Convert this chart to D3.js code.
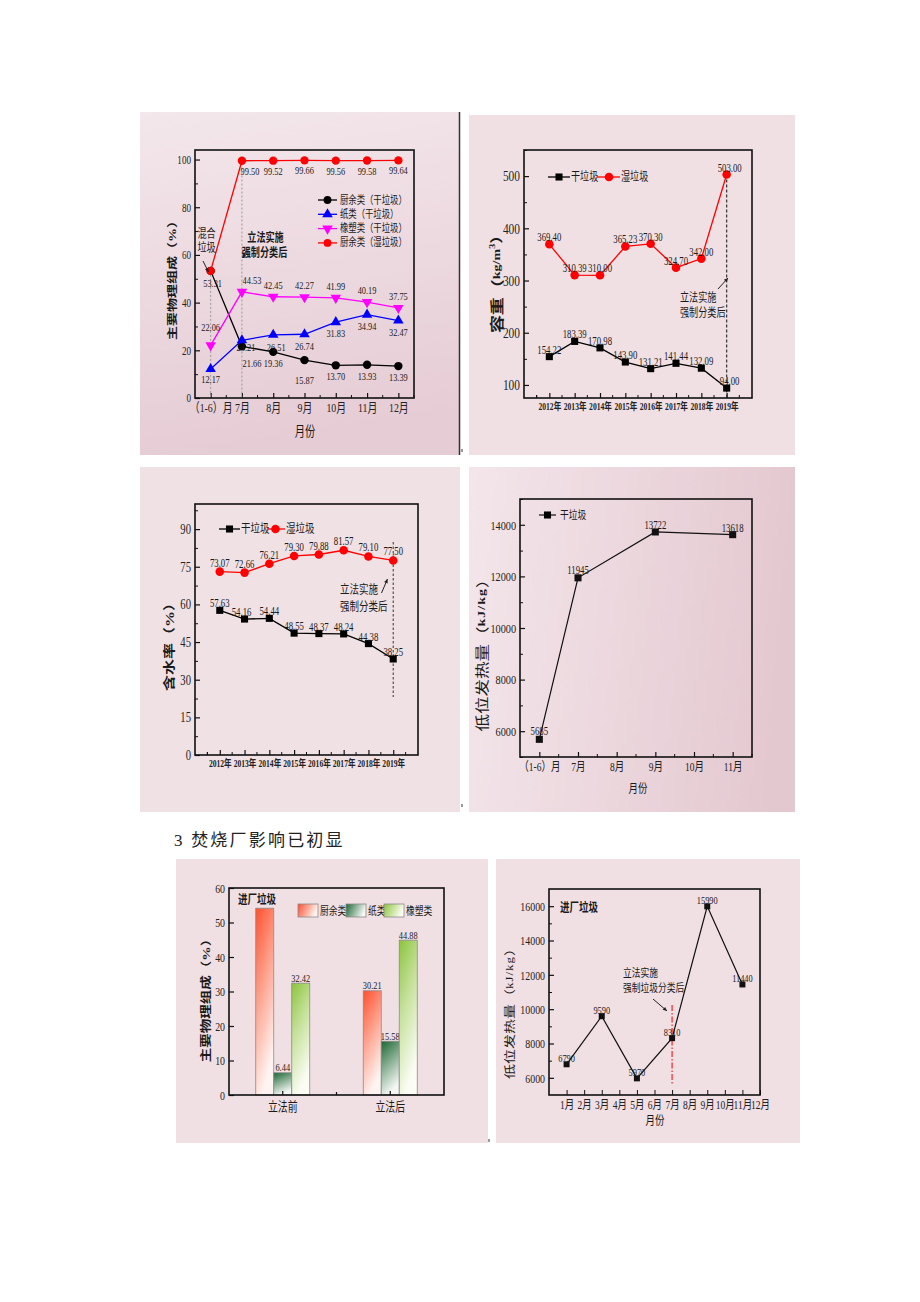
<!DOCTYPE html>
<html><head><meta charset="utf-8">
<script src="https://cdn.jsdelivr.net/npm/d3@7"></script>
<style>body{margin:0;background:#fff;} svg{display:block}</style>
</head><body>
<svg id="c" width="920" height="1302"></svg>
<script>
// ---------------- DATA ----------------
const p1Months = ["（1-6）月","7月","8月","9月","10月","11月","12月"];
const p1Ticks = [0,20,40,60,80,100];
const p1FoodDry = [53.31,21.66,19.36,15.87,13.70,13.93,13.39];
const p1Paper = [12.17,24.21,26.51,26.74,31.83,34.94,32.47];
const p1Plastic = [22.06,44.53,42.45,42.27,41.99,40.19,37.75];
const p1FoodWet = [53.31,99.50,99.52,99.66,99.56,99.58,99.64];
const p1Legend = ["厨余类（干垃圾）","纸类（干垃圾）","橡塑类（干垃圾）","厨余类（湿垃圾）"];

const years = ["2012年","2013年","2014年","2015年","2016年","2017年","2018年","2019年"];
const p2Ticks = [100,200,300,400,500];
const densityDry = [154.22,183.39,170.98,143.90,131.21,141.44,132.09,94.00];
const densityWet = [369.40,310.39,310.00,365.23,370.30,324.70,342.00,503.00];

const p3Ticks = [0,15,30,45,60,75,90];
const moistureDry = [57.63,54.16,54.44,48.55,48.37,48.24,44.38,38.25];
const moistureWet = [73.07,72.66,76.21,79.30,79.88,81.57,79.10,77.50];
const seriesNames = ["干垃圾","湿垃圾"];

const p4Months = ["（1-6）月","7月","8月","9月","10月","11月"];
const p4Ticks = [6000,8000,10000,12000,14000];
const p4Cats = ["（1-6）月","7月","9月","11月"];
const p4Heat = [5685,11945,13722,13618];

const p5Groups = ["立法前","立法后"];
const p5Series = ["厨余类","纸类","橡塑类"];
const p5Ticks = [0,10,20,30,40,50,60];
const p5Before = [54.14,6.44,32.42];
const p5After = [30.21,15.58,44.88];

const p6MonthLabels = ["1月","2月","3月","4月","5月","6月","7月","8月","9月","10月","11月","12月"];
const p6Ticks = [6000,8000,10000,12000,14000,16000];
const p6Months = [1,3,5,7,9,11];
const p6Heat = [6790,9590,5970,8310,15990,11440];

// ---------------- HELPERS ----------------
const svg = d3.select('#c');
const SERIF = '"Liberation Serif","Noto Sans CJK SC",serif';
const CJK = '"Noto Sans CJK SC","Liberation Serif",sans-serif';
const K = 0.76;
const defs = svg.append('defs');

function grad(id, stops, x2, y2) {
  const g = defs.append('linearGradient').attr('id', id)
    .attr('x1', 0).attr('y1', 0).attr('x2', x2).attr('y2', y2);
  stops.forEach(s => g.append('stop').attr('offset', s[0]).attr('stop-color', s[1]));
}
grad('bg1', [[0,'#f3e7eb'],[1,'#e6ccd5']], 0.15, 1);
grad('bg4', [[0,'#f3e6ea'],[1,'#e4c8d0']], 1, 0.1);
grad('barFood', [[0,'#ff4f2e'],[0.45,'#ff9c87'],[1,'#fff4f1']], 0.35, 1);
grad('barPaper', [[0,'#1c6634'],[0.45,'#7ea88a'],[1,'#f4f7f4']], 0.35, 1);
grad('barPlastic', [[0,'#8bc43a'],[0.45,'#c4e098'],[1,'#fbfdf4']], 0.35, 1);
grad('legFood', [[0,'#ff4f2e'],[1,'#fff4f1']], 1, 0.3);
grad('legPaper', [[0,'#1c6634'],[1,'#f4f7f4']], 1, 0.3);
grad('legPlastic', [[0,'#8bc43a'],[1,'#fbfdf4']], 1, 0.3);

function squish(sel) {
  sel.each(function() {
    const t = d3.select(this);
    const x = +t.attr('x') || 0, y = +t.attr('y') || 0;
    t.attr('x', 0).attr('y', 0).attr('transform', `translate(${x},${y}) scale(${K},1)`);
  });
}
function txt(g, x, y, s, o = {}) {
  return g.append('text')
    .attr('transform', `translate(${x},${y}) scale(${K},1)` + (o.rot ? ' rotate(-90)' : ''))
    .attr('font-size', o.size || 10)
    .attr('text-anchor', o.anchor || 'middle')
    .attr('dominant-baseline', o.rot ? 'central' : null)
    .attr('font-weight', o.bold ? 'bold' : null)
    .attr('fill', o.fill || '#1a1a1a')
    .attr('font-family', o.font || SERIF)
    .text(s);
}
function yAxis(g, y, x0, major, minor, size) {
  const a = g.append('g').attr('transform', `translate(${x0},0)`).attr('color', '#111')
    .call(d3.axisLeft(y).tickValues(major).tickSize(-5).tickPadding(4).tickFormat(d3.format('d')));
  a.select('.domain').remove();
  a.selectAll('line').attr('stroke-width', 1.2);
  a.selectAll('text').attr('font-size', size).attr('font-family', SERIF).attr('fill', '#222');
  squish(a.selectAll('text'));
  if (minor) {
    const m = g.append('g').attr('transform', `translate(${x0},0)`).attr('color', '#111')
      .call(d3.axisLeft(y).tickValues(minor).tickSize(-3).tickFormat(''));
    m.select('.domain').remove();
  }
}
function xAxis(g, xs, y0, vals, minor, size, bold) {
  const a = g.append('g').attr('transform', `translate(0,${y0})`).attr('color', '#111')
    .call(d3.axisBottom(xs).tickValues(vals).tickSize(-5).tickPadding(5));
  a.select('.domain').remove();
  a.selectAll('line').attr('stroke-width', 1.2);
  a.selectAll('text').attr('font-size', size).attr('font-family', SERIF).attr('fill', '#222')
    .attr('font-weight', bold ? 'bold' : null);
  squish(a.selectAll('text'));
  if (minor) {
    const g2 = g.append('g').attr('stroke', '#111').attr('stroke-width', 1);
    minor.forEach(v => g2.append('line').attr('x1', v).attr('x2', v).attr('y1', y0).attr('y2', y0 - 3));
  }
}
function frame(g, x0, y0, x1, y1) {
  g.append('rect').attr('x', x0).attr('y', y0).attr('width', x1 - x0).attr('height', y1 - y0)
    .attr('fill', 'none').attr('stroke', '#111').attr('stroke-width', 1.6);
}
function series(g, pts, color, sym, size, rot, w) {
  g.append('path').attr('d', d3.line()(pts)).attr('fill', 'none').attr('stroke', color).attr('stroke-width', w || 1.3);
  g.selectAll(null).data(pts).join('path')
    .attr('d', d3.symbol(sym, size)())
    .attr('transform', d => `translate(${d[0]},${d[1]})` + (rot ? ' rotate(180)' : ''))
    .attr('fill', color);
}
function arrow(g, x1, y1, x2, y2, color) {
  color = color || '#222';
  g.append('line').attr('x1', x1).attr('y1', y1).attr('x2', x2).attr('y2', y2)
    .attr('stroke', color).attr('stroke-width', 1);
  const ang = Math.atan2(y2 - y1, x2 - x1), L = 4.5, a = 0.45;
  g.append('path').attr('d', `M${x2},${y2}L${x2 - L*Math.cos(ang - a)},${y2 - L*Math.sin(ang - a)}L${x2 - L*Math.cos(ang + a)},${y2 - L*Math.sin(ang + a)}Z`)
    .attr('fill', color);
}
function midpoints(xs, cats, edgeL, edgeR) {
  const out = [];
  const p = cats.map(c => xs(c));
  const st = p[1] - p[0];
  for (let v = p[0] - st / 2; v < edgeR; v += st) if (v > edgeL + 1) out.push(v);
  return out;
}
const fmt2 = d3.format('.2f');

// ---------------- BACKGROUNDS ----------------
const bgs = [
  [140,112,319,343,'url(#bg1)'],
  [469,115,326,340,'#f0e0e4'],
  [140,467,320,345,'#f0e1e5'],
  [469,467,326,345,'url(#bg4)'],
  [176,859,312,284,'#f0dfe3'],
  [496,859,304,284,'#f0dfe3']
];
bgs.forEach(b => svg.append('rect').attr('x', b[0]).attr('y', b[1]).attr('width', b[2]).attr('height', b[3]).attr('fill', b[4]));
svg.append('line').attr('x1', 459.5).attr('x2', 459.5).attr('y1', 112).attr('y2', 455).attr('stroke', '#333').attr('stroke-width', 1.5);
[[461,449],[461,804],[488,1139]].forEach(p => svg.append('rect').attr('x', p[0]).attr('y', p[1]).attr('width', 2).attr('height', 3).attr('fill', '#999'));

// heading
svg.append('text').attr('x', 174).attr('y', 846).attr('font-size', 17).attr('letter-spacing', 2.2)
  .attr('font-family', '"Liberation Serif","Noto Sans CJK SC",serif').attr('fill', '#222').text('3 焚烧厂影响已初显');

// ---------------- PANEL 1 ----------------
(function() {
  const g = svg.append('g');
  const X0 = 195, X1 = 414, Y0 = 150, Y1 = 398;
  const xs = d3.scalePoint().domain(p1Months).range([X0, X1]).padding(0.5);
  const ys = d3.scaleLinear().domain([0, 104]).range([Y1, Y0]);
  yAxis(g, ys, X0, p1Ticks, [10,30,50,70,90], 12);
  xAxis(g, xs, Y1, p1Months, midpoints(xs, p1Months, X0, X1), 13, false);
  g.append('line').attr('x1', xs(p1Months[0])).attr('x2', xs(p1Months[0])).attr('y1', ys(p1FoodDry[0])).attr('y2', Y1)
    .attr('stroke', '#999').attr('stroke-dasharray', '2,2');
  g.append('line').attr('x1', xs(p1Months[1])).attr('x2', xs(p1Months[1])).attr('y1', ys(100)).attr('y2', Y1)
    .attr('stroke', '#999').attr('stroke-dasharray', '2,2');
  const P = arr => p1Months.map((c, i) => [xs(c), ys(arr[i])]);
  const pDry = P(p1FoodDry), pPaper = P(p1Paper), pPl = P(p1Plastic), pWet = P(p1FoodWet);
  series(g, pDry, '#000', d3.symbolCircle, 55);
  series(g, pPaper, '#0000ff', d3.symbolTriangle, 48);
  series(g, pPl, '#ff00ff', d3.symbolTriangle, 48, true);
  series(g, pWet, '#ff0000', d3.symbolCircle, 55);
  frame(g, X0, Y0, X1, Y1);
  p1FoodWet.forEach((v, i) => { if (i > 0) txt(g, pWet[i][0] + (i === 1 ? 8 : 0), pWet[i][1] + 14, fmt2(v), {size: 11}); });
  const dryDy = [16, 21, 15.5, 23.5, 15, 15, 15], dryDx = [2, 10, 0, 0, 0, 0, 0];
  p1FoodDry.forEach((v, i) => txt(g, pDry[i][0] + dryDx[i], pDry[i][1] + dryDy[i], fmt2(v), {size: 11}));
  const papDy = [14, 11, 16, 16, 15, 15, 15], papDx = [0, 4, 3, 0, 0, 0, 0];
  p1Paper.forEach((v, i) => txt(g, pPaper[i][0] + papDx[i], pPaper[i][1] + papDy[i], fmt2(v), {size: 11}));
  const plDy = [-14, -8, -8, -8, -8, -8, -8], plDx = [0, 10, 0, 0, 0, 0, 0];
  p1Plastic.forEach((v, i) => txt(g, pPl[i][0] + plDx[i], pPl[i][1] + plDy[i], fmt2(v), {size: 11}));
  const legC = ['#000', '#0000ff', '#ff00ff', '#ff0000'];
  const legS = [d3.symbolCircle, d3.symbolTriangle, d3.symbolTriangle, d3.symbolCircle];
  p1Legend.forEach((s, i) => {
    const y = 200 + i * 14.3;
    g.append('line').attr('x1', 318).attr('x2', 337).attr('y1', y).attr('y2', y).attr('stroke', legC[i]).attr('stroke-width', 1.3);
    g.append('path').attr('d', d3.symbol(legS[i], 48)()).attr('transform', `translate(327.5,${y})` + (i === 2 ? ' rotate(180)' : '')).attr('fill', legC[i]);
    txt(g, 340, y + 3.5, s, {size: 11, anchor: 'start'});
  });
  txt(g, 206.5, 238, '混合', {size: 12});
  txt(g, 206.5, 252, '垃圾', {size: 12});
  arrow(g, 203, 261, 208.5, 272);
  txt(g, 265.5, 242, '立法实施', {size: 12, bold: true});
  txt(g, 264.5, 257, '强制分类后', {size: 12, bold: true});
  arrow(g, 247, 249, 242.5, 258);
  txt(g, 305, 436, '月份', {size: 13.5});
  txt(g, 173, 277, '主要物理组成（%）', {size: 14, bold: true, rot: true});
})();

// ---------------- PANEL 2 ----------------
(function() {
  const g = svg.append('g');
  const X0 = 524, X1 = 752, Y0 = 150, Y1 = 398;
  const xs = d3.scalePoint().domain(years).range([X0, X1]).padding(1);
  const ys = d3.scaleLinear().domain([75, 550]).range([Y1, Y0]);
  yAxis(g, ys, X0, p2Ticks, [150,250,350,450,550], 15);
  xAxis(g, xs, Y1, years, midpoints(xs, years, X0, X1).concat([xs(years[0]) - xs.step() / 2]), 10, true);
  g.append('line').attr('x1', xs(years[7])).attr('x2', xs(years[7])).attr('y1', ys(densityWet[7])).attr('y2', Y1)
    .attr('stroke', '#333').attr('stroke-width', 1.2).attr('stroke-dasharray', '3,2');
  const pD = years.map((c, i) => [xs(c), ys(densityDry[i])]);
  const pW = years.map((c, i) => [xs(c), ys(densityWet[i])]);
  series(g, pD, '#000', d3.symbolSquare, 50);
  series(g, pW, '#ff0000', d3.symbolCircle, 58);
  frame(g, X0, Y0, X1, Y1);
  densityDry.forEach((v, i) => txt(g, pD[i][0] + (i === 7 ? 3 : 0), pD[i][1] - 3, fmt2(v), {size: 11.5}));
  densityWet.forEach((v, i) => txt(g, pW[i][0] + (i === 7 ? 3 : 0), pW[i][1] - 3, fmt2(v), {size: 11.5}));
  const ly = 177;
  g.append('line').attr('x1', 548).attr('x2', 570).attr('y1', ly).attr('y2', ly).attr('stroke', '#000').attr('stroke-width', 1.3);
  g.append('path').attr('d', d3.symbol(d3.symbolSquare, 50)()).attr('transform', `translate(559,${ly})`).attr('fill', '#000');
  txt(g, 571, ly + 4, seriesNames[0], {size: 12, anchor: 'start'});
  g.append('line').attr('x1', 597).attr('x2', 620).attr('y1', ly).attr('y2', ly).attr('stroke', '#ff0000').attr('stroke-width', 1.3);
  g.append('path').attr('d', d3.symbol(d3.symbolCircle, 58)()).attr('transform', `translate(609,${ly})`).attr('fill', '#ff0000');
  txt(g, 621, ly + 4, seriesNames[1], {size: 12, anchor: 'start'});
  txt(g, 680, 302, '立法实施', {size: 12, anchor: 'start'});
  txt(g, 680, 317, '强制分类后', {size: 12, anchor: 'start'});
  arrow(g, 718, 289, 728, 278);
  const t = g.append('text').attr('transform', `translate(497,280) scale(${K},1) rotate(-90)`)
    .attr('text-anchor', 'middle').attr('dominant-baseline', 'central').attr('font-weight', 'bold')
    .attr('font-family', SERIF).attr('fill', '#1a1a1a');
  t.append('tspan').attr('font-size', 18).text('容重（');
  t.append('tspan').attr('font-size', 14).text('kg/m');
  t.append('tspan').attr('font-size', 10).attr('dy', -6).text('3');
  t.append('tspan').attr('font-size', 17).attr('dy', 6).text('）');
})();

// ---------------- PANEL 3 ----------------
(function() {
  const g = svg.append('g');
  const X0 = 195, X1 = 418, Y0 = 504, Y1 = 755;
  const xs = d3.scalePoint().domain(years).range([X0, X1]).padding(1);
  const ys = d3.scaleLinear().domain([0, 100]).range([Y1, Y0]);
  yAxis(g, ys, X0, p3Ticks, [7.5,22.5,37.5,52.5,67.5,82.5,97.5], 14);
  xAxis(g, xs, Y1, years, midpoints(xs, years, X0, X1).concat([xs(years[0]) - xs.step() / 2]), 10, true);
  g.append('line').attr('x1', xs(years[7])).attr('x2', xs(years[7])).attr('y1', 542).attr('y2', 697)
    .attr('stroke', '#444').attr('stroke-width', 1.1).attr('stroke-dasharray', '2.5,2');
  const pD = years.map((c, i) => [xs(c), ys(moistureDry[i])]);
  const pW = years.map((c, i) => [xs(c), ys(moistureWet[i])]);
  series(g, pD, '#000', d3.symbolSquare, 50);
  series(g, pW, '#ff0000', d3.symbolCircle, 58);
  frame(g, X0, Y0, X1, Y1);
  moistureDry.forEach((v, i) => txt(g, pD[i][0] - (i === 1 ? 3 : 0), pD[i][1] - 3, fmt2(v), {size: 11.5}));
  moistureWet.forEach((v, i) => txt(g, pW[i][0], pW[i][1] - 5, fmt2(v), {size: 11.5}));
  const ly = 529;
  g.append('line').attr('x1', 219).attr('x2', 240).attr('y1', ly).attr('y2', ly).attr('stroke', '#000').attr('stroke-width', 1.3);
  g.append('path').attr('d', d3.symbol(d3.symbolSquare, 50)()).attr('transform', `translate(229.5,${ly})`).attr('fill', '#000');
  txt(g, 241, ly + 4, seriesNames[0], {size: 12.5, anchor: 'start'});
  g.append('line').attr('x1', 267).attr('x2', 285).attr('y1', ly).attr('y2', ly).attr('stroke', '#ff0000').attr('stroke-width', 1.3);
  g.append('path').attr('d', d3.symbol(d3.symbolCircle, 58)()).attr('transform', `translate(275.5,${ly})`).attr('fill', '#ff0000');
  txt(g, 286, ly + 4, seriesNames[1], {size: 12.5, anchor: 'start'});
  txt(g, 340, 594, '立法实施', {size: 12.5, anchor: 'start'});
  txt(g, 340, 611, '强制分类后', {size: 12.5, anchor: 'start'});
  arrow(g, 381.5, 593, 387.5, 579);
  txt(g, 170, 643, '含水率（%）', {size: 16, bold: true, rot: true});
})();

// ---------------- PANEL 4 ----------------
(function() {
  const g = svg.append('g');
  const X0 = 520, X1 = 752, Y0 = 499, Y1 = 757;
  const xs = d3.scalePoint().domain(p4Months).range([X0, X1]).padding(0.5);
  const ys = d3.scaleLinear().domain([5000, 15000]).range([Y1, Y0]);
  yAxis(g, ys, X0, p4Ticks, [5000,7000,9000,11000,13000,15000], 13.5);
  xAxis(g, xs, Y1, p4Months, midpoints(xs, p4Months, X0, X1), 12.5, false);
  const pts = p4Cats.map((c, i) => [xs(c), ys(p4Heat[i])]);
  series(g, pts, '#111', d3.symbolSquare, 50, false, 1.2);
  frame(g, X0, Y0, X1, Y1);
  const dys = [-4, -4, -3, -3];
  p4Heat.forEach((v, i) => txt(g, pts[i][0], pts[i][1] + dys[i], String(v), {size: 11.5}));
  const ly = 515;
  g.append('line').attr('x1', 539).attr('x2', 556).attr('y1', ly).attr('y2', ly).attr('stroke', '#111').attr('stroke-width', 1.2);
  g.append('path').attr('d', d3.symbol(d3.symbolSquare, 50)()).attr('transform', `translate(547.5,${ly})`).attr('fill', '#000');
  txt(g, 560, ly + 4, seriesNames[0], {size: 11.5, anchor: 'start'});
  txt(g, 638, 793, '月份', {size: 12.5});
  const t = g.append('text').attr('transform', `translate(482,651) scale(${K},1) rotate(-90)`)
    .attr('text-anchor', 'middle').attr('dominant-baseline', 'central')
    .attr('font-family', SERIF).attr('fill', '#1a1a1a');
  t.append('tspan').attr('font-size', 17.5).text('低位发热量（');
  t.append('tspan').attr('font-size', 14).attr('font-weight', 'bold').attr('letter-spacing', 1).text('kJ/kg');
  t.append('tspan').attr('font-size', 17.5).text('）');
})();

// ---------------- PANEL 5 ----------------
(function() {
  const g = svg.append('g');
  const X0 = 229, X1 = 444, Y0 = 888, Y1 = 1095;
  const xs = d3.scaleBand().domain(p5Groups).range([X0, X1]);
  const xi = d3.scaleBand().domain(p5Series).range([-27, 27]);
  const ys = d3.scaleLinear().domain([0, 60]).range([Y1, Y0]);
  yAxis(g, ys, X0, p5Ticks, null, 13);
  const fills = ['url(#barFood)', 'url(#barPaper)', 'url(#barPlastic)'];
  const vals = [p5Before, p5After];
  p5Groups.forEach((grp, gi) => {
    const cx = xs(grp) + xs.bandwidth() / 2;
    p5Series.forEach((s, si) => {
      const v = vals[gi][si];
      g.append('rect').attr('x', cx + xi(s)).attr('y', ys(v)).attr('width', xi.bandwidth()).attr('height', Y1 - ys(v))
        .attr('fill', fills[si]).attr('stroke', '#8a8a8a').attr('stroke-width', 0.8);
      if (!(gi === 0 && si === 0)) txt(g, cx + xi(s) + xi.bandwidth() / 2, ys(v) - 1.5, fmt2(v), {size: 11});
    });
    txt(g, cx, 1111, grp, {size: 13});
  });
  const tg = g.append('g').attr('stroke', '#111').attr('stroke-width', 1.2);
  p5Groups.forEach(grp => { const cx = xs(grp) + xs.bandwidth() / 2; tg.append('line').attr('x1', cx).attr('x2', cx).attr('y1', Y1).attr('y2', Y1 - 4); });
  tg.append('line').attr('x1', xs(p5Groups[1])).attr('x2', xs(p5Groups[1])).attr('y1', Y1).attr('y2', Y1 - 3);
  frame(g, X0, Y0, X1, Y1);
  txt(g, 238, 904, '进厂垃圾', {size: 12.5, bold: true, anchor: 'start', font: CJK});
  const legX = [298, 346, 384], legF = ['url(#legFood)', 'url(#legPaper)', 'url(#legPlastic)'];
  p5Series.forEach((s, i) => {
    g.append('rect').attr('x', legX[i]).attr('y', 904).attr('width', 20).attr('height', 13)
      .attr('fill', legF[i]).attr('stroke', '#8a8a8a').attr('stroke-width', 0.8);
    txt(g, legX[i] + 22, 915, s, {size: 11.5, anchor: 'start'});
  });
  txt(g, 206.5, 997, '主要物理组成（%）', {size: 14.5, bold: true, rot: true});
})();

// ---------------- PANEL 6 ----------------
(function() {
  const g = svg.append('g');
  const X0 = 549, X1 = 760, Y0 = 889, Y1 = 1095;
  const xs = d3.scaleLinear().domain([0, 12]).range([X0, X1]);
  const ys = d3.scaleLinear().domain([5000, 17000]).range([Y1, Y0]);
  yAxis(g, ys, X0, p6Ticks, [7000,9000,11000,13000,15000], 13);
  const a = g.append('g').attr('transform', `translate(0,${Y1})`).attr('color', '#111')
    .call(d3.axisBottom(xs).tickValues(d3.range(1, 13)).tickSize(-5).tickPadding(5).tickFormat(d => p6MonthLabels[d - 1]));
  a.select('.domain').remove();
  a.selectAll('text').attr('font-size', 12.5).attr('font-family', SERIF).attr('fill', '#222');
  squish(a.selectAll('text'));
  g.append('line').attr('x1', xs(7)).attr('x2', xs(7)).attr('y1', 1005).attr('y2', 1085)
    .attr('stroke', '#ff2020').attr('stroke-width', 1.2).attr('stroke-dasharray', '6,2,1.5,2');
  const pts = p6Months.map((m, i) => [xs(m), ys(p6Heat[i])]);
  series(g, pts, '#111', d3.symbolSquare, 36, false, 1.2);
  frame(g, X0, Y0, X1, Y1);
  p6Heat.forEach((v, i) => txt(g, pts[i][0], pts[i][1] - 2, String(v), {size: 11}));
  txt(g, 560, 912, '进厂垃圾', {size: 12.5, bold: true, anchor: 'start', font: CJK});
  txt(g, 623, 977, '立法实施', {size: 11.5, anchor: 'start'});
  txt(g, 623, 992, '强制垃圾分类后', {size: 11.5, anchor: 'start'});
  arrow(g, 653, 999, 667, 1011);
  txt(g, 655, 1125, '月份', {size: 12.5});
  const t = g.append('text').attr('transform', `translate(510,1010) scale(${K},1) rotate(-90)`)
    .attr('text-anchor', 'middle').attr('dominant-baseline', 'central')
    .attr('font-family', SERIF).attr('fill', '#1a1a1a');
  t.append('tspan').attr('font-size', 15).text('低位发热量（');
  t.append('tspan').attr('font-size', 13).attr('letter-spacing', 1).text('kJ/kg');
  t.append('tspan').attr('font-size', 15).text('）');
})();
</script>
</body></html>
